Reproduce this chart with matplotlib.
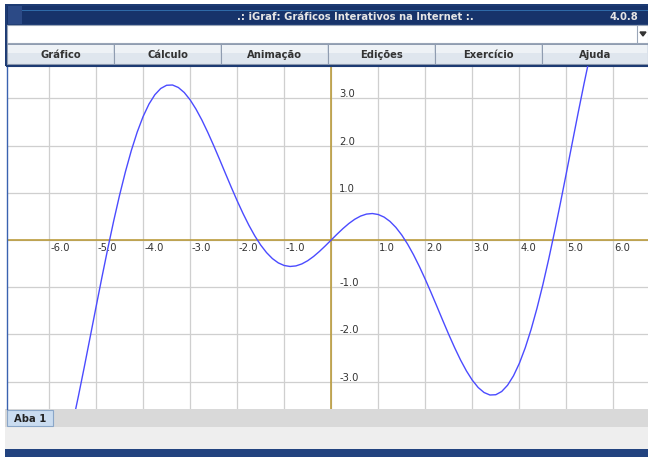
import matplotlib
matplotlib.use("Agg")
import matplotlib.pyplot as plt
from matplotlib.patches import Rectangle

# curve (x, y)
curve_x = [-5.5, -5.375, -5.25, -5.125, -5.0, -4.875, -4.75, -4.625, -4.5, -4.375,
           -4.25, -4.125, -4.0, -3.875, -3.75, -3.625, -3.5, -3.375, -3.25, -3.125,
           -3.0, -2.875, -2.75, -2.625, -2.5, -2.375, -2.25, -2.125, -2.0, -1.875,
           -1.75, -1.625, -1.5, -1.375, -1.25, -1.125, -1.0, -0.875, -0.75, -0.625,
           -0.5, -0.375, -0.25, -0.125, 0.0,
           0.125, 0.25, 0.375, 0.5, 0.625, 0.75, 0.875, 1.0, 1.125, 1.25,
           1.375, 1.5, 1.625, 1.75, 1.875, 2.0, 2.125, 2.25, 2.375, 2.5,
           2.625, 2.75, 2.875, 3.0, 3.125, 3.25, 3.375, 3.5, 3.625, 3.75,
           3.875, 4.0, 4.125, 4.25, 4.375, 4.5, 4.625, 4.75, 4.875, 5.0,
           5.125, 5.25, 5.375, 5.5]
curve_y = [-3.898, -3.307, -2.690, -2.055, -1.418, -0.789, -0.179, 0.404, 0.949, 1.448,
           1.896, 2.286, 2.615, 2.879, 3.077, 3.210, 3.278, 3.284, 3.231, 3.125,
           2.970, 2.773, 2.542, 2.282, 2.003, 1.711, 1.413, 1.118, 0.832, 0.562,
           0.312, 0.088, -0.106, -0.267, -0.394, -0.485, -0.540, -0.561, -0.549, -0.507,
           -0.439, -0.349, -0.242, -0.124, 0.0,
           0.124, 0.242, 0.349, 0.439, 0.507, 0.549, 0.561, 0.540, 0.485, 0.394,
           0.267, 0.106, -0.088, -0.312, -0.562, -0.832, -1.118, -1.413, -1.711, -2.003,
           -2.282, -2.542, -2.773, -2.970, -3.125, -3.231, -3.284, -3.278, -3.210, -3.077,
           -2.879, -2.615, -2.286, -1.896, -1.448, -0.949, -0.404, 0.179, 0.789, 1.418,
           2.055, 2.690, 3.307, 3.898]

x_ticks = [-6, -5, -4, -3, -2, -1, 1, 2, 3, 4, 5, 6]
y_ticks = [3, 2, 1, -1, -2, -3]
menu_items = ["Gráfico", "Cálculo", "Animação", "Edições", "Exercício", "Ajuda"]
title_text = ".: iGraf: Gráficos Interativos na Internet :."
version_text = "4.0.8"
tab_label = "Aba 1"

W, H = 648, 460
fig = plt.figure(figsize=(W / 100, H / 100), dpi=100)
fig.patch.set_facecolor("white")

# UI overlay in pixel coordinates
ui = fig.add_axes([0, 0, 1, 1])
ui.set_xlim(0, W)
ui.set_ylim(H, 0)
ui.axis("off")

def box(x, y, w, h, fc, ec="none", lw=0.0, z=1):
    ui.add_patch(Rectangle((x, y), w, h, facecolor=fc, edgecolor=ec, linewidth=lw, zorder=z))

# window frame
box(5, 5, W - 5, 62, "#1d3b73")
# title bar
box(7, 7, W - 7, 18, "#17336a")
box(22, 11, W - 22, 1.2, "#2f6aa8")
box(8, 7, 14, 18, "#2c4a86")
ui.text(355, 16.5, title_text, color="#e6e6e6", fontsize=7.2, ha="center", va="center",
        fontweight="bold", zorder=3)
ui.text(638, 16.5, version_text, color="#e6e6e6", fontsize=7.2, ha="right", va="center",
        fontweight="bold", zorder=3)
# input field
box(7, 26, W - 7, 18, "white", "#9aa6b8", 0.8)
box(637, 26, 11, 18, "white", "#9aa6b8", 0.8)
ui.fill([640, 646, 643], [33, 33, 37], color="#333333", zorder=3)
# menu buttons
bx0, bw = 7, 107
for i, name in enumerate(menu_items):
    x = bx0 + i * bw
    w = bw if i < len(menu_items) - 1 else W - x
    box(x, 45, w, 19.5, "#dfe6ee", "#8f9cb0", 0.8, z=2)
    box(x + 1, 46, w - 2, 8, "#eef2f6", z=2)
    ui.text(x + w / 2, 55, name, color="#333333", fontsize=7.2, ha="center", va="center",
            fontweight="bold", zorder=3)
# bottom area
box(5, 410, W - 5, 18, "#d9d9d9")
box(5, 428, W - 5, 22, "#eeeeee")
box(5, 450, W - 5, 8, "#22437f")
box(7, 411, 46, 16, "#cadcf0", "#8aa6c8", 0.8, z=2)
ui.text(30, 419.5, tab_label, color="#222222", fontsize=7.2, ha="center", va="center",
        fontweight="bold", zorder=3)

# plot area
px0, px1, py0, py1 = 7, 648, 67, 410
ax = fig.add_axes([px0 / W, 1 - py1 / H, (px1 - px0) / W, (py1 - py0) / H])
ax.set_facecolor("white")
ox, sx = 331.2, 47.03
oy, sy = 241.0, 47.2
ax.set_xlim((px0 - ox) / sx, (px1 - ox) / sx)
ax.set_ylim((oy - py1) / sy, (oy - py0) / sy)
ax.set_xticks([])
ax.set_yticks([])
for s in ax.spines.values():
    s.set_visible(False)
ax.spines["left"].set_visible(True)
ax.spines["left"].set_color("#3a62b0")
ax.spines["left"].set_linewidth(1.0)
ax.spines["top"].set_visible(True)
ax.spines["top"].set_color("#1d3b73")
ax.spines["top"].set_linewidth(1.5)

for k in range(-7, 8):
    ax.axvline(k, color="#cfcfcf", lw=0.9, zorder=1)
for k in range(-4, 5):
    ax.axhline(k, color="#cfcfcf", lw=0.9, zorder=1)
ax.axhline(0, color="#b8962e", lw=1.1, zorder=2)
ax.axvline(0, color="#b8962e", lw=1.1, zorder=2)

for t in x_ticks:
    ax.annotate(f"{t:.1f}", (t, 0), xytext=(1, -2), textcoords="offset pixels",
                ha="left", va="top", fontsize=7.2, color="#333333", zorder=3)
for t in y_ticks:
    ax.annotate(f"{t:.1f}", (0, t), xytext=(8, 0), textcoords="offset pixels",
                ha="left", va="bottom", fontsize=7.2, color="#333333", zorder=3)

ax.plot(curve_x, curve_y, color="#4b4bff", lw=1.0, zorder=4)

fig.savefig("out.png", dpi=100)
